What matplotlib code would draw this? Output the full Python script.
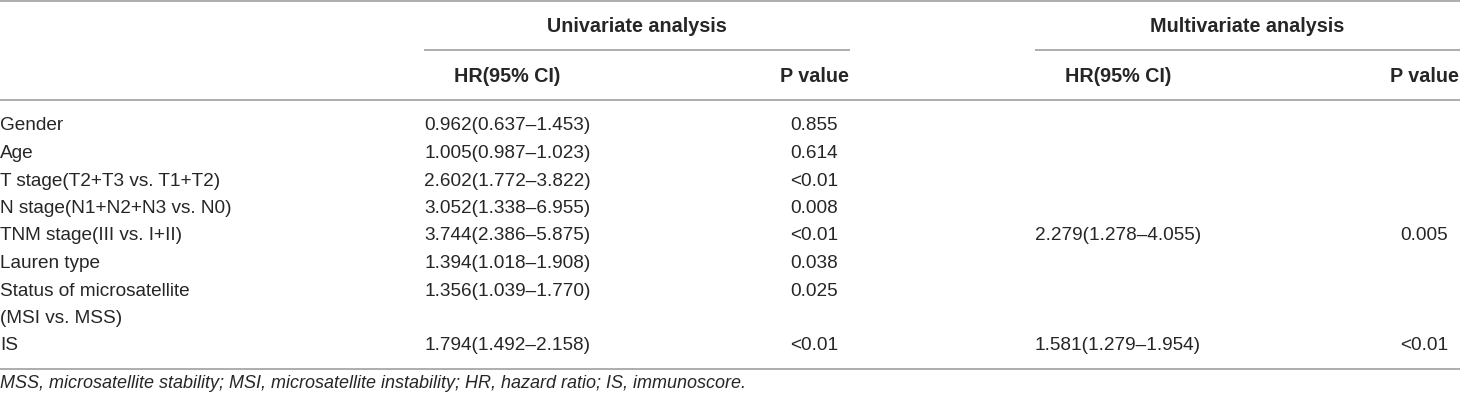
import matplotlib
matplotlib.use("Agg")
import matplotlib.pyplot as plt

plt.rcParams['font.family'] = ['Liberation Sans', 'DejaVu Sans']

# ---- data ----
group_titles = ["Univariate analysis", "Multivariate analysis"]
col_headers = ["HR(95% CI)", "P value", "HR(95% CI)", "P value"]
variables = [
    "Gender",
    "Age",
    "T stage(T2+T3 vs. T1+T2)",
    "N stage(N1+N2+N3 vs. N0)",
    "TNM stage(III vs. I+II)",
    "Lauren type",
    "Status of microsatellite\n(MSI vs. MSS)",
    "IS",
]
uni_hr = [
    "0.962(0.637–1.453)",
    "1.005(0.987–1.023)",
    "2.602(1.772–3.822)",
    "3.052(1.338–6.955)",
    "3.744(2.386–5.875)",
    "1.394(1.018–1.908)",
    "1.356(1.039–1.770)",
    "1.794(1.492–2.158)",
]
uni_p = ["0.855", "0.614", "<0.01", "0.008", "<0.01", "0.038", "0.025", "<0.01"]
multi_hr = ["", "", "", "", "2.279(1.278–4.055)", "", "", "1.581(1.279–1.954)"]
multi_p = ["", "", "", "", "0.005", "", "", "<0.01"]
footnote = ("MSS, microsatellite stability; MSI, microsatellite instability; "
            "HR, hazard ratio; IS, immunoscore.")

# ---- layout ----
W, H = 1460, 400
fig = plt.figure(figsize=(W / 100, H / 100), dpi=100)
ax = fig.add_axes([0, 0, 1, 1])
ax.set_xlim(0, W)
ax.set_ylim(H, 0)
ax.axis('off')

txt_color = '#262626'
line_color = '#a0a0a0'
fs = 13.7
fs_bold = 14.2
fs_note = 12.95
lw = 1.2

# column geometry (pixels)
x_label = 0
uni_left, uni_right = 424, 850
multi_left, multi_right = 1035, 1460
hr_uni_x = 424
p_uni_cx = 814
hr_multi_x = 1035
p_multi_cx = 1424
hr_width = 166

title_y = 26
line1_y = 50
header_y = 77
line2_y = 100
row0_y = 126
row_step = 27.5

# horizontal rules
ax.plot([0, W], [1, 1], color=line_color, lw=lw, solid_capstyle='butt')
ax.plot([uni_left, uni_right], [line1_y, line1_y], color=line_color, lw=lw, solid_capstyle='butt')
ax.plot([multi_left, multi_right], [line1_y, line1_y], color=line_color, lw=lw, solid_capstyle='butt')
ax.plot([0, W], [line2_y, line2_y], color=line_color, lw=lw, solid_capstyle='butt')

# group titles
ax.text((uni_left + uni_right) / 2, title_y, group_titles[0], ha='center', va='center',
        fontsize=fs_bold, fontweight='bold', color=txt_color)
ax.text((multi_left + multi_right) / 2, title_y, group_titles[1], ha='center', va='center',
        fontsize=fs_bold, fontweight='bold', color=txt_color)

# column headers
hx = [hr_uni_x + hr_width / 2, p_uni_cx, hr_multi_x + hr_width / 2, p_multi_cx]
for x, h in zip(hx, col_headers):
    ax.text(x, header_y, h, ha='center', va='center', fontsize=fs_bold,
            fontweight='bold', color=txt_color)

# body rows
line_idx = 0
for i, var in enumerate(variables):
    y = row0_y + line_idx * row_step
    for k, part in enumerate(var.split("\n")):
        ax.text(x_label, y + k * row_step, part, ha='left', va='center',
                fontsize=fs, color=txt_color)
    ax.text(hr_uni_x, y, uni_hr[i], ha='left', va='center', fontsize=fs, color=txt_color)
    ax.text(p_uni_cx, y, uni_p[i], ha='center', va='center', fontsize=fs, color=txt_color)
    if multi_hr[i]:
        ax.text(hr_multi_x, y, multi_hr[i], ha='left', va='center', fontsize=fs, color=txt_color)
    if multi_p[i]:
        ax.text(p_multi_cx, y, multi_p[i], ha='center', va='center', fontsize=fs, color=txt_color)
    line_idx += len(var.split("\n"))

bottom_y = row0_y + (line_idx - 1) * row_step + 23
ax.plot([0, W], [bottom_y, bottom_y], color=line_color, lw=lw, solid_capstyle='butt')
ax.text(0, bottom_y + 15, footnote, ha='left', va='center', fontsize=fs_note,
        style='italic', color=txt_color)

fig.savefig("out.png", dpi=100)
